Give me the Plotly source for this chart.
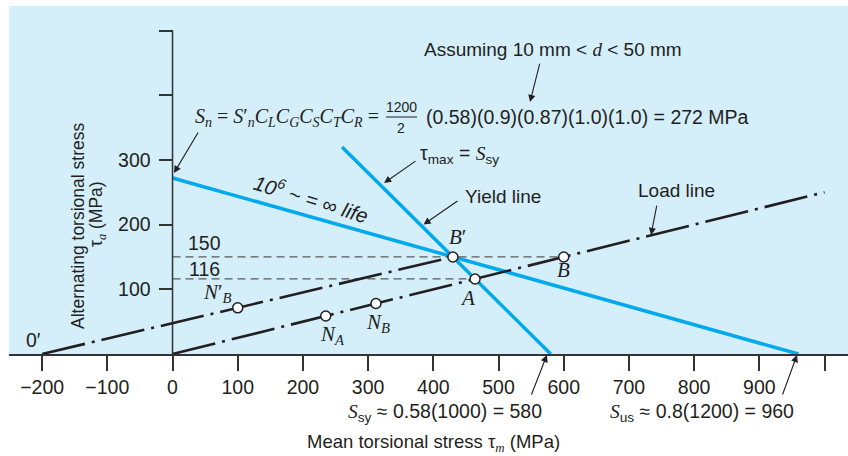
import plotly.graph_objects as go

# ---- data (MPa) -----------------------------------------------------------
# fatigue line: S_n at tau_m = 0 down to S_us on the mean-stress axis
sn_tau_m = [0, 960]
sn_tau_a = [272, 0]
# yield line: tau_m + tau_a = S_sy
yield_tau_m = [260, 580]
yield_tau_a = [320, 0]
# load line through the shifted origin 0'
load_shift_tau_m = [-200, 430]
load_shift_tau_a = [0, 150]
# load line through the origin
load_tau_m = [0, 1000]
load_tau_a = [0, 250]

# operating / limit points
point_tau_m = [100, 235, 312, 464, 430, 600]
point_tau_a = [71.4, 58.75, 78, 116, 150, 150]

# dashed levels read across to the tau_a axis
level_values = [150, 116]
level_ends = [600, 464]

x_ticks = [-200, -100, 0, 100, 200, 300, 400, 500, 600, 700, 800, 900, 1000]
x_ticklabels = ["\u2212200", "\u2212100", "0", "100", "200", "300", "400",
                "500", "600", "700", "800", "900", ""]
y_ticks = [100, 200, 300, 400, 500]
y_ticklabels = ["100", "200", "300", "", ""]

# ---- styling --------------------------------------------------------------
BLUE = "#00a8ec"
BG = "#d4eefa"
INK = "#231f20"
AXIS = "#333333"
SANS = "Liberation Sans, Arial, sans-serif"
SERIF = "Liberation Serif, Times New Roman, serif"
DASHDOT = "44px,7px,3px,7px"

# plot area spans 348 px vertically; below-axis notes use paper units
PLOT_H = 348.0


def below(px):
    """Paper y for a point px pixels below the tau_m axis."""
    return -px / PLOT_H


def it(s):
    """Italic serif run inside a sans label."""
    return f'<span style="font-family:{SERIF}"><i>{s}</i></span>'


fig = go.Figure()

fig.add_trace(go.Scatter(x=sn_tau_m, y=sn_tau_a, mode="lines",
                         line=dict(color=BLUE, width=3.5), hoverinfo="skip"))
fig.add_trace(go.Scatter(x=yield_tau_m, y=yield_tau_a, mode="lines",
                         line=dict(color=BLUE, width=3.5), hoverinfo="skip"))

for lv, end in zip(level_values, level_ends):
    fig.add_trace(go.Scatter(x=[0, end], y=[lv, lv], mode="lines",
                             line=dict(color="#5a5a5a", width=1.3, dash="8px,5px"),
                             hoverinfo="skip"))

fig.add_trace(go.Scatter(x=load_shift_tau_m, y=load_shift_tau_a, mode="lines",
                         line=dict(color=INK, width=2.6, dash=DASHDOT), hoverinfo="skip"))
fig.add_trace(go.Scatter(x=load_tau_m, y=load_tau_a, mode="lines",
                         line=dict(color=INK, width=2.6, dash=DASHDOT), hoverinfo="skip"))

fig.add_trace(go.Scatter(x=point_tau_m, y=point_tau_a, mode="markers",
                         marker=dict(size=10, color="white",
                                     line=dict(color=INK, width=1.5)),
                         cliponaxis=False, hoverinfo="skip"))

# tau_a axis line (stops at the top tick)
fig.add_shape(type="line", xref="x", yref="y", x0=0, y0=0, x1=0, y1=500,
              line=dict(color=AXIS, width=1.5), layer="above")

annotations = []


def label(x, y, text, size=19.5, xanchor="center", yanchor="middle", angle=0,
          family=SANS, yref="y"):
    annotations.append(dict(x=x, y=y, xref="x", yref=yref, text=text,
                            showarrow=False, xanchor=xanchor, yanchor=yanchor,
                            textangle=angle,
                            font=dict(family=family, size=size, color=INK)))


def arrow(x_tail, y_tail, x_tip, y_tip):
    annotations.append(dict(x=x_tip, y=y_tip, ax=x_tail, ay=y_tail,
                            xref="x", yref="y", axref="x", ayref="y",
                            text="", showarrow=True, arrowhead=2,
                            arrowsize=1.3, arrowwidth=1.1, arrowcolor=INK,
                            standoff=0, startstandoff=0))


def arrow_below(x_tip, dx_tail, dy_tail):
    annotations.append(dict(x=x_tip, y=below(1), xref="x", yref="paper",
                            ax=dx_tail, ay=dy_tail, axref="pixel", ayref="pixel",
                            text="", showarrow=True, arrowhead=2,
                            arrowsize=1.3, arrowwidth=1.1, arrowcolor=INK,
                            standoff=0, startstandoff=0))


# header notes
label(583.6, 471.4, f"Assuming 10 mm &lt; {it('d')} &lt; 50 mm", size=19)
arrow(563.8, 451.3, 548.3, 389.5)

formula_left = (
    "<i>S</i><sub><i>n</i></sub> = <i>S</i>\u2032<sub><i>n</i></sub>"
    "<i>C</i><sub><i>L</i></sub><i>C</i><sub><i>G</i></sub>"
    "<i>C</i><sub><i>S</i></sub><i>C</i><sub><i>T</i></sub>"
    "<i>C</i><sub><i>R</i></sub> ="
)
label(319.0, 366.3, formula_left, size=20, xanchor="right", family=SERIF)
label(350.5, 382.5, "1200", size=14)
label(350.5, 349.3, "2", size=14)
fig.add_shape(type="line", xref="x", yref="y", x0=327.5, x1=375.0,
              y0=366.3, y1=366.3, line=dict(color=INK, width=1))
label(385.7, 366.3, "(0.58)(0.9)(0.87)(1.0)(1.0) = 272 MPa", size=19.5,
      xanchor="left")
arrow(40.6, 344.7, 2.3, 279.8)

label(376.5, 307.6, f"\u03c4<sub>max</sub> = {it('S')}<sub>sy</sub>", size=19.5,
      xanchor="left")
arrow(375.0, 299.8, 324.4, 264.3)

label(445.6, 244.2, "Yield line", size=19, xanchor="left")
arrow(439.4, 238.0, 385.0, 200.0)

label(772.2, 253.5, "Load line", size=19)
arrow(743.1, 231.8, 733.9, 183.9)

label(212.0, 240.5, "<i>10<sup>6</sup> ~ = \u221e life</i>", size=20.5, angle=17)

# level values on the tau_a axis
label(48.3, 171.6, "150", size=19.5)
label(48.3, 131.4, "116", size=19.5)

# point labels
label(437.7, 180.8, "<i>B</i>\u2032", size=21, family=SERIF)
label(600.0, 129.8, "<i>B</i>", size=21, family=SERIF)
label(451.7, 86.6, "<i>A</i>", size=21, family=SERIF)
label(68.3, 94.3, "<i>N</i>\u2032<sub><i>B</i></sub>", size=21, family=SERIF)
label(244.6, 29.4, "<i>N</i><sub><i>A</i></sub>", size=21, family=SERIF)
label(315.2, 47.9, "<i>N</i><sub><i>B</i></sub>", size=21, family=SERIF)
label(-213.9, 21.6, "0\u2032", size=19.5)

# strengths on the tau_m axis
label(418.0, below(58), f"{it('S')}<sub>sy</sub> \u2248 0.58(1000) = 580",
      size=19.5, yref="paper")
arrow_below(574.2, -16, 41)
label(812.1, below(58), f"{it('S')}<sub>us</sub> \u2248 0.8(1200) = 960",
      size=19.5, yref="paper")
arrow_below(957.8, -15, 41)

# axis titles
label(399.5, below(89),
      f"Mean torsional stress \u03c4<sub>{it('m')}</sub> (MPa)", size=18.5,
      yref="paper")
label(-145.0, 197.8, "Alternating torsional stress", size=17.5, angle=-90)
label(-116.0, 216.4, f"\u03c4<sub>{it('a')}</sub> (MPa)", size=17.5, angle=-90)

fig.update_layout(
    width=848, height=456,
    margin=dict(l=9, r=0, t=6, b=102, pad=0),
    paper_bgcolor="white", plot_bgcolor=BG,
    showlegend=False,
    annotations=annotations,
    xaxis=dict(range=[-250.8, 1036.0], tickvals=x_ticks, ticktext=x_ticklabels,
               ticks="outside", ticklen=15, tickwidth=1.5, tickcolor=AXIS,
               showline=True, linecolor=AXIS, linewidth=1.5,
               showgrid=False, zeroline=False,
               tickfont=dict(family=SANS, size=19.5, color=INK)),
    yaxis=dict(range=[0, 537.9], anchor="free", position=(172.5 - 9) / 839,
               tickvals=y_ticks, ticktext=y_ticklabels,
               ticks="outside", ticklen=14, tickwidth=1.5, tickcolor=AXIS,
               ticklabelstandoff=4,
               showline=False, showgrid=False, zeroline=False,
               tickfont=dict(family=SANS, size=19.5, color=INK)),
)

fig.write_html("out.html")
